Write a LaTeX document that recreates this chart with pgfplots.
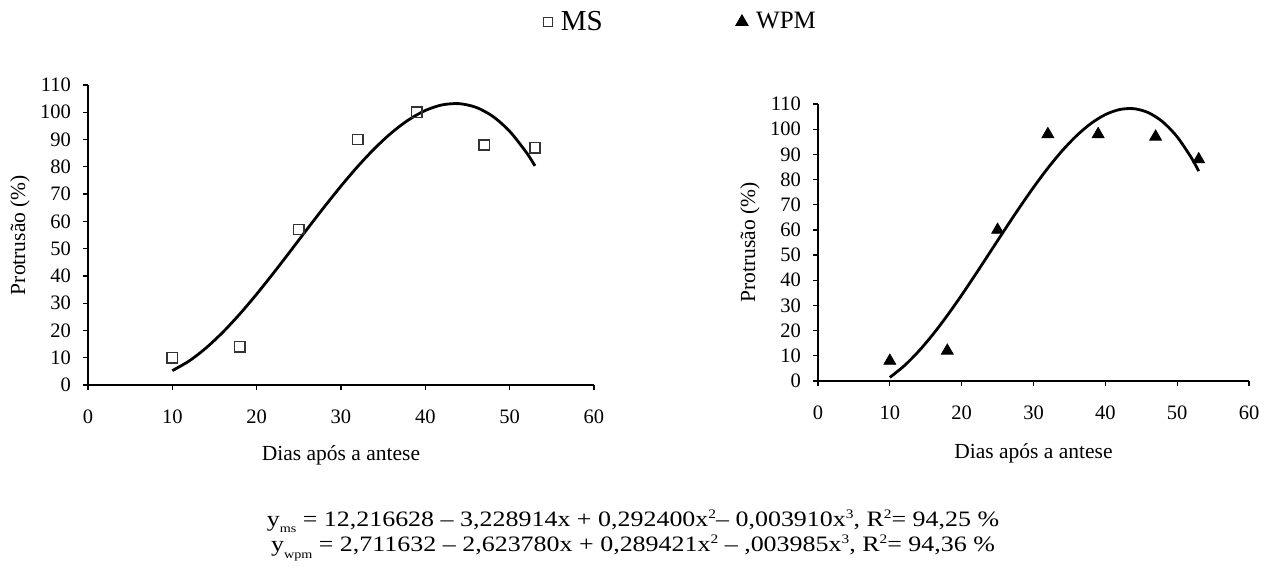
\documentclass[border=0pt]{standalone}
\usepackage{fontspec}
\setmainfont{Liberation Serif}
\usepackage{pgfplots}
\usepackage{pgfplotstable}
\pgfplotsset{compat=1.18}

% observed points
\pgfplotstableread{
x y
10 10
18 14
25 57
32 90
39 100
47 88
53 87
}\msdata
\pgfplotstableread{
x y
10 8
18 12
25 60
32 98
39 98
47 97
53 88
}\wpmdata
% fitted curves
\pgfplotstableread{
x y
10 5.26
12 8.82
14 13.59
16 19.39
18 26.03
20 33.32
22 41.07
24 49.09
26 57.21
28 65.22
30 72.94
32 80.19
34 86.77
36 92.50
38 97.19
40 100.66
42 102.71
44 103.16
46 101.82
48 98.50
50 93.02
52 85.19
53 80.33
}\msfit
\pgfplotstableread{
x y
10 1.43
12 6.02
14 11.77
16 18.50
18 26.02
20 34.12
22 42.64
24 51.36
26 60.10
28 68.67
30 76.88
32 84.54
34 91.45
36 97.42
38 102.27
40 105.79
42 107.81
44 108.13
46 106.55
48 102.89
50 96.95
52 88.55
53 83.36
}\wpmfit

\pgfplotsset{
  prot/.style={
    scale only axis,
    anchor=south west,
    xmin=0, xmax=60, ymin=0, ymax=110,
    xtick={0,10,...,60}, ytick={0,10,...,110},
    axis lines*=left,
    axis line style={-, line width=0.6pt},
    tick style={line width=0.6pt, black},
    tick align=outside,
    major tick length=2.5pt,
    tick label style={font=\fontsize{10.25}{12}\selectfont},
    xticklabel style={yshift=-6.5pt},
    yticklabel style={xshift=-2.5pt},
    /pgf/number format/assume math mode=true,
    clip=false,
  },
  fit/.style={black, line width=1.4pt, smooth, no marks},
}
\newcommand{\eqsub}[1]{\raisebox{-0.6ex}{\fontsize{6}{6}\selectfont #1}}
\newcommand{\eqsup}[1]{\raisebox{0.85ex}{\fontsize{6.5}{6}\selectfont #1}}

\begin{document}
\begin{tikzpicture}
\useasboundingbox (0,0) rectangle (635.5pt,284pt);

\begin{axis}[prot, at={(44pt,91.5pt)}, width=253pt, height=150pt,
  legend style={at={(1.177,1.21)}, anchor=center, draw=none, fill=none,
    legend columns=2, /tikz/every even column/.append style={column sep=62.5pt},
    nodes={inner xsep=4pt}},
  legend cell align=left]
\addlegendimage{only marks, mark=square, mark size=2.4pt, mark options={draw=black!80, line width=0.6pt}}
\addlegendentry{\fontsize{14.5}{14}\selectfont MS}
\addlegendimage{only marks, mark=triangle*, mark size=3.6pt, mark options={black}}
\addlegendentry{\fontsize{12.5}{12}\selectfont WPM}
\addplot[fit, forget plot] table {\msfit};
\addplot[only marks, mark=square, mark size=2.6pt, mark options={draw=black!80, line width=0.75pt}, forget plot] table {\msdata};
\end{axis}

\begin{axis}[prot, at={(409pt,93.5pt)}, width=215.5pt, height=138.5pt]
\addplot[fit] table {\wpmfit};
\addplot[only marks, mark=triangle*, mark size=3.4pt, mark options={black}] table {\wpmdata};
\end{axis}

\node[rotate=90, font=\fontsize{10.75}{12}\selectfont] at (10pt,166.5pt) {Protrusão (\%)};
\node[rotate=90, font=\fontsize{10.75}{12}\selectfont] at (375pt,162.75pt) {Protrusão (\%)};
\node[font=\fontsize{10.75}{12}\selectfont] at (170.5pt,56.5pt) {Dias após a antese};
\node[font=\fontsize{10.75}{12}\selectfont] at (516.75pt,57.5pt) {Dias após a antese};

\node[align=center, font=\fontsize{11}{8.5}\selectfont] at (316.5pt,16.5pt)
  {\scalebox{1.18}[1]{y\eqsub{ms} = 12,216628 – 3,228914x + 0,292400x\eqsup{2}– 0,003910x\eqsup{3}, R\eqsup{2}= 94,25 \%}\\
   \scalebox{1.18}[1]{y\eqsub{wpm} = 2,711632 – 2,623780x + 0,289421x\eqsup{2} – ,003985x\eqsup{3}, R\eqsup{2}= 94,36 \%}};
\end{tikzpicture}
\end{document}
